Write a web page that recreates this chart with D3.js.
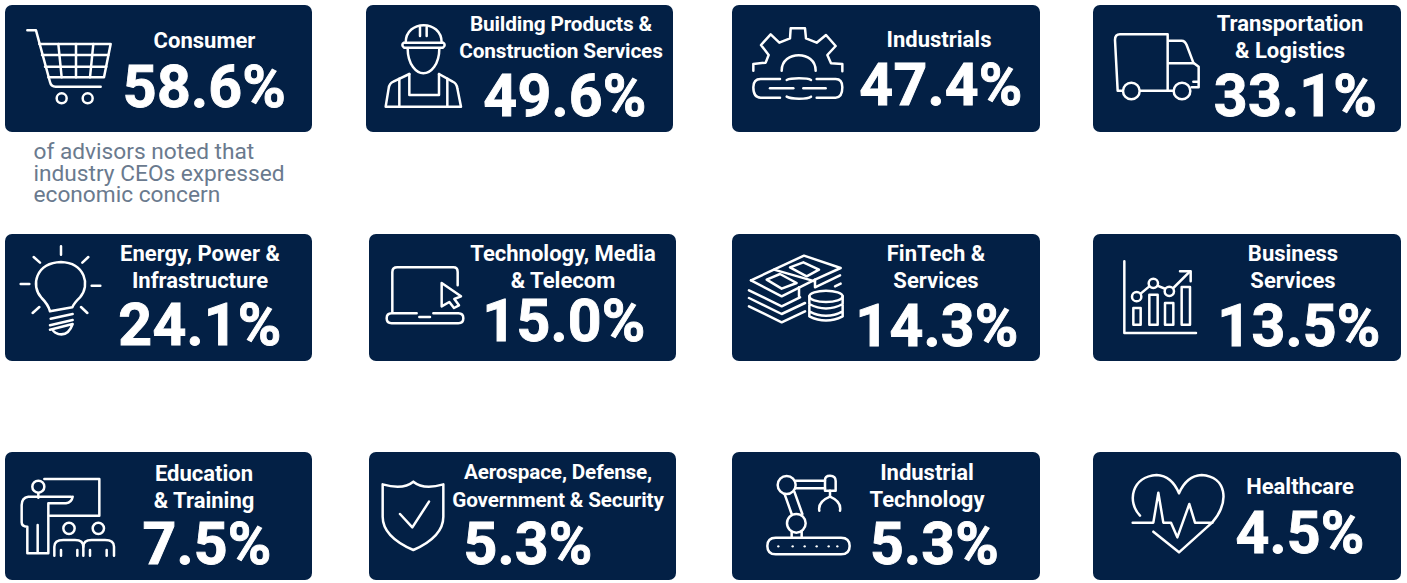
<!DOCTYPE html>
<html><head><meta charset="utf-8">
<script src="https://cdn.jsdelivr.net/npm/d3@7"></script>
<style>html,body{margin:0;background:#fff;overflow:hidden}svg{display:block}text{font-family:Roboto,sans-serif}</style>
</head><body><svg id="c" width="1407" height="583"></svg>
<script>
const categories=[["Consumer"],["Building Products &","Construction Services"],["Industrials"],["Transportation","& Logistics"],
["Energy, Power &","Infrastructure"],["Technology, Media","& Telecom"],["FinTech &","Services"],["Business","Services"],
["Education","& Training"],["Aerospace, Defense,","Government & Security"],["Industrial","Technology"],["Healthcare"]];
const values=[58.6,49.6,47.4,33.1,24.1,15.0,14.3,13.5,7.5,5.3,5.3,4.5];
const caption=["of advisors noted that","industry CEOs expressed","economic concern"];

// layout: card box, title centre and baselines, title size, value centre and baseline
const layout=[
{x:5,y:5,w:307,h:127,tc:204.5,tb:[47.5],ts:22,vc:204.5,vb:106.5,ox:0,oy:0},
{x:366,y:5,w:307,h:127,tc:561,tb:[31,58],ts:20.8,vc:565,vb:115.5,ox:360,oy:0},
{x:732,y:5,w:308,h:127,tc:939,tb:[46.5],ts:22,vc:941,vb:104.5,ox:725,oy:0},
{x:1093,y:5,w:308,h:127,tc:1290,tb:[31,58],ts:22,vc:1295.5,vb:115.5,ox:1085,oy:0},
{x:5,y:234,w:307,h:127,tc:200,tb:[261,288],ts:22,vc:200,vb:345,ox:0,oy:228},
{x:369,y:234,w:307,h:127,tc:563,tb:[261,288],ts:22,vc:564,vb:341,ox:360,oy:228},
{x:732,y:234,w:308,h:127,tc:936,tb:[261,288],ts:22,vc:937,vb:345.5,ox:725,oy:228},
{x:1093,y:234,w:308,h:127,tc:1293,tb:[261,288],ts:22,vc:1299,vb:345.5,ox:1085,oy:228},
{x:5,y:452,w:307,h:128,tc:204,tb:[481,508],ts:22,vc:207,vb:563.5,ox:0,oy:445},
{x:369,y:452,w:307,h:128,tc:558,tb:[479,507],ts:20.7,vc:528,vb:563.5,ox:360,oy:445},
{x:732,y:452,w:308,h:128,tc:927,tb:[480,507],ts:22,vc:934.5,vb:563.5,ox:725,oy:445},
{x:1093,y:452,w:308,h:128,tc:1300,tb:[494],ts:22,vc:1300,vb:552.5,ox:1085,oy:445}];

// Pictograms, outlined at 3x scale
const icons=[
{p:["M82 91H108L150 246Q153 260 167 260H302","M118 132H332L312 232H145","M126 165H325M135 200H319","M175 132L185 232M228 132V232M280 132L270 232"],c:[[185,295,15],[263,295,15]]},
{p:["M137 128C137 58 245 58 245 128","M132 128H249Q259 134 249 143H132Q122 134 132 128Z","M180 82V108M200 82V108","M143 145C143 195 170 220 190 220C212 220 238 195 238 145","M148 222L100 245Q88 250 86 265L77 320H303L292 265Q290 250 278 245L237 222","M148 222V285H237V222","M118 236V320M262 236V320"]},
{p:["M85 212V192L122 188L131 165L108 135L137 103L163 128L195 115L197 85H240L243 115L275 128L303 105L332 138L307 165L318 190L352 192V214","M170 212C170 150 272 150 272 212","M165 237H107Q85 237 85 262Q85 293 107 293H165","M135 265H205","M185 240Q195 235 222 235Q250 235 258 240M185 290Q195 296 222 296Q250 296 258 290","M275 237H332Q352 237 352 262Q352 293 332 293H275","M235 265H302"]},
{p:["M115 272H98L90 120Q90 103 105 103H248V272H165","M250 122H290Q300 122 305 135L325 188L341 200V262H320","M250 190H325","M325 245H338","M248 272H265"],c:[[139,273,25],[291,273,25]]},
{p:["M183 55V80M101 87L120 104M265 87L247 104M62 168H88M275 173H301M98 255L118 237M262 255L243 237","M150 250Q145 230 125 210C90 172 108 105 183 102C255 105 272 172 240 208Q222 225 217 238Z","M152 272L218 258M150 292L218 276","M150 305L218 288Q205 325 175 318Q165 315 160 309"]},
{p:["M97 252V132Q97 118 112 118H280Q293 118 293 132V172","M170 256H95Q80 256 80 271Q80 286 95 286H295Q310 286 310 271Q310 256 295 256H220","M178 267H210","M245 165L303 205L283 213L297 232L282 240L268 222L245 235Z"]},
{p:["M78 157L237 83L347 120L270 155","M147 125L270 160M78 157L170 205L270 155V178L345 142","M72 187L170 235L225 208M72 210L170 258L240 225M72 235L170 283L240 250","M330 175L347 167M222 178V205","M125 155L165 138L215 165L170 182Z","M195 118L235 103L282 125L245 145Z"],
 post:["M253 205V265M353 205V265M253 228Q303 255 353 228M253 250Q303 277 353 250M253 265Q303 290 353 265"],e:[303,205,50,17]},
{p:["M118 100V315H333","M145 240H167V290H145ZM193 200H218V290H193ZM240 225H265V290H240ZM290 177H315V290H290Z","M167 197L193 175M217 173L242 183M265 180L315 130","M285 130H317V160"],c:[[155,206,14],[205,166,14],[253,190,14]]},
{p:["M133 102H298V212H150","M115 143V158","M213 155H85Q65 158 65 180V232Q65 245 82 245V325H113V240M113 325H145V175H198Q215 172 218 155","M163 332V305Q163 285 190 285H225Q250 285 250 305V332","M250 305Q250 285 275 285H315Q342 285 342 305V332","M183 315V332M232 315V332M270 315V332M320 315V332"],c:[[115,125,18],[207,250,17],[295,250,17]]},
{p:["M160 110Q190 135 250 118V215Q250 275 160 315Q68 275 68 215V118Q130 135 160 110Z","M120 207L157 247L207 170"]},
{p:["M152 278H348Q374 278 374 303Q374 328 348 328H152Q127 328 127 303Q127 278 152 278Z","M200 258V278M230 258V278","M178 145L200 207M208 140L232 207","M212 107H300M212 130H300","M300 137V105Q300 92 315 92Q332 92 332 108V137Z","M315 137V155","M283 197Q278 170 315 155Q350 170 345 197"],c:[[185,120,27],[214,235,28]],d:[160,203,239,275,311,337]},
{p:["M165 212C125 170 140 95 215 90Q260 92 282 145Q305 92 350 90C425 95 435 170 382 232L282 322L205 260","M143 233H205L220 143L235 233H258L277 277L313 177L330 233H382"]}
];

const navy="#032045", svg=d3.select("#c");
const fmt=d3.format(".1f");
const cards=svg.selectAll("g.card").data(values.map((v,i)=>({v,lines:categories[i],box:layout[i],icon:icons[i]}))).join("g").attr("class","card");
cards.append("rect").attr("x",d=>d.box.x).attr("y",d=>d.box.y).attr("width",d=>d.box.w).attr("height",d=>d.box.h).attr("rx",7).attr("fill",navy);

const ig=cards.append("g").attr("transform",d=>`translate(${d.box.ox},${d.box.oy}) scale(${1/3})`)
 .attr("fill","none").attr("stroke","#fff").attr("stroke-width",7.5).attr("stroke-linecap","round").attr("stroke-linejoin","round");
ig.selectAll("path.a").data(d=>d.icon.p).join("path").attr("class","a").attr("d",d=>d);
ig.selectAll("ellipse").data(d=>d.icon.e?[d.icon.e]:[]).join("ellipse").attr("cx",d=>d[0]).attr("cy",d=>d[1]).attr("rx",d=>d[2]).attr("ry",d=>d[3]).attr("fill",navy);
ig.selectAll("path.b").data(d=>d.icon.post||[]).join("path").attr("class","b").attr("d",d=>d);
ig.selectAll("circle.c").data(d=>d.icon.c||[]).join("circle").attr("class","c").attr("cx",d=>d[0]).attr("cy",d=>d[1]).attr("r",d=>d[2]).attr("fill",navy);
ig.selectAll("circle.d").data(d=>d.icon.d||[]).join("circle").attr("class","d").attr("cx",d=>d).attr("cy",304).attr("r",3.5).attr("fill","#fff").attr("stroke","none");

cards.selectAll("text.t").data(d=>d.lines.map((s,i)=>({s,x:d.box.tc,y:d.box.tb[i],fs:d.box.ts}))).join("text").attr("class","t")
 .attr("x",d=>d.x).attr("y",d=>d.y).attr("text-anchor","middle").attr("fill","#fff").attr("font-size",d=>d.fs).attr("font-weight",700)
 .attr("letter-spacing",d=>d.fs<22?-0.15:0).text(d=>d.s);
cards.append("text").attr("x",d=>d.box.vc).attr("y",d=>d.box.vb).attr("text-anchor","middle").attr("fill","#fff")
 .attr("stroke","#fff").attr("stroke-width",0.9).attr("font-size",59).attr("font-weight",700).attr("letter-spacing",0.2).text(d=>fmt(d.v)+"%");

svg.selectAll("text.cap").data(caption).join("text").attr("class","cap").attr("x",33.5).attr("y",(d,i)=>159+i*21.5)
 .attr("font-size",22.7).attr("fill","#6a7a8e").text(d=>d);
</script></body></html>
